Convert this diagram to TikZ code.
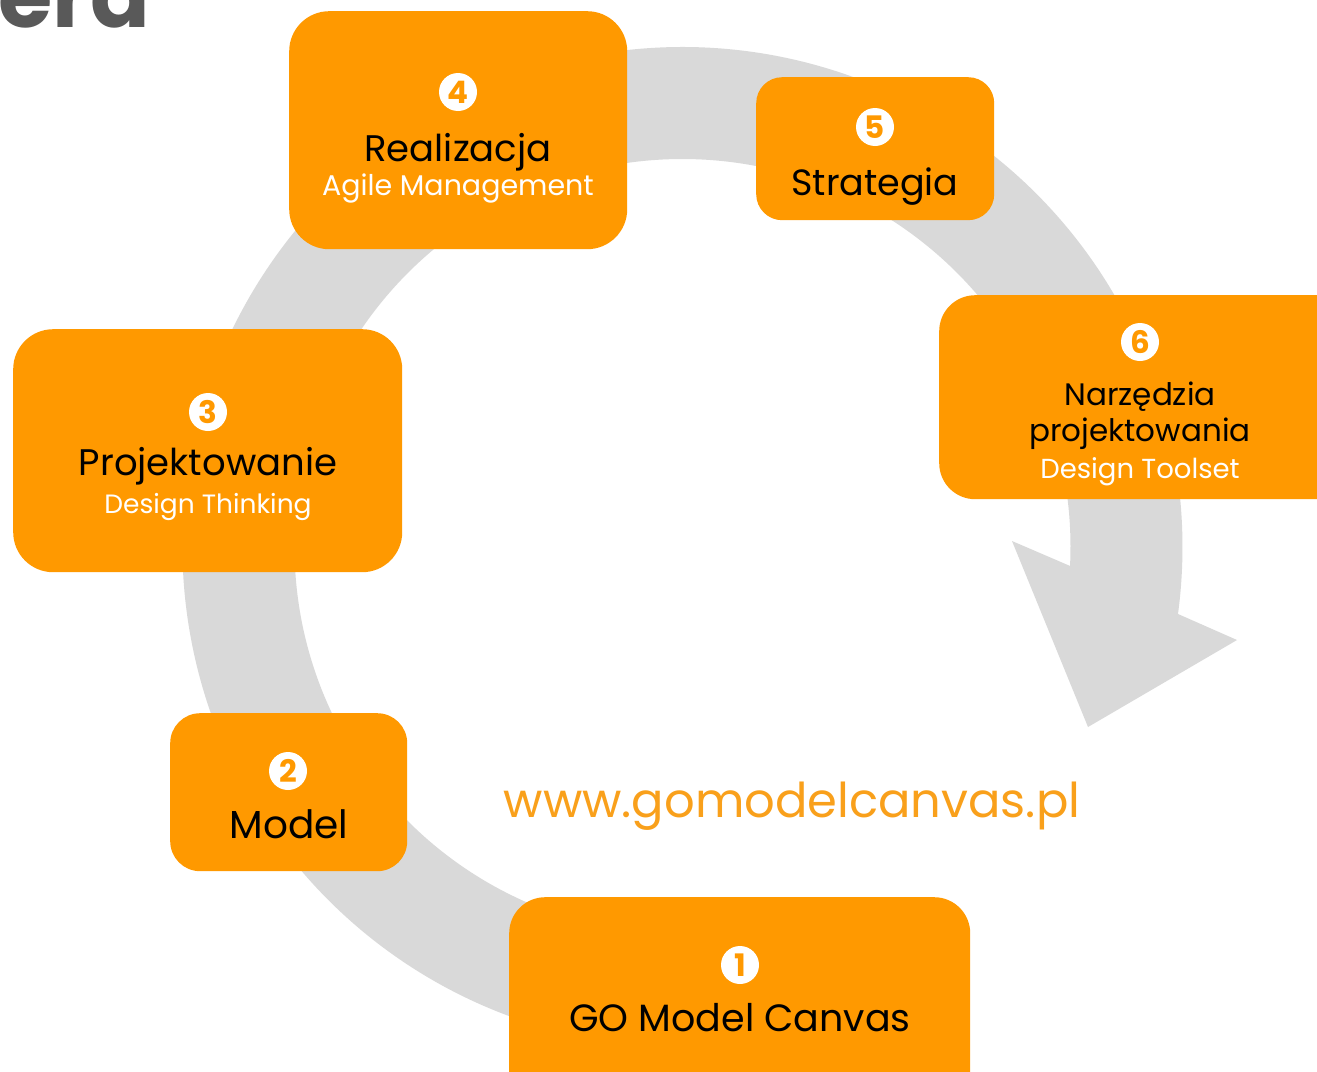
\documentclass[tikz,border=0pt]{standalone}
\usepackage{fontspec}
\setmainfont{Poppins}
\definecolor{boxorange}{HTML}{FF9900}
\definecolor{ringgray}{HTML}{D9D9D9}
\definecolor{urlorange}{HTML}{F9A01B}
\definecolor{titlegray}{HTML}{595959}
\tikzset{
  obox/.style={fill=boxorange, draw=none, inner sep=0pt, anchor=north west},
  numdot/.style={circle, fill=white, draw=none, minimum size=38pt, inner sep=0pt,
     text=boxorange, font=\fontsize{31}{31}\selectfont\bfseries},
  maintxt/.style={anchor=base, inner sep=0pt, text=black, font=\fontsize{37}{40}\selectfont},
  subtxt/.style={anchor=base, inner sep=0pt, text=white, font=\fontsize{27.5}{30}\selectfont},
}
\begin{document}
\begin{tikzpicture}[x=1pt,y=-1pt]
\clip (0,0) rectangle (1317,1071);
\fill[white] (0,0) rectangle (1317,1071);
% gray circular arrow
\fill[ringgray] ([shift={(682.5,547)}]80:500) arc[start angle=80, end angle=367.7, radius=500]
  -- (1237,640) -- (1088,727) -- (1012,541)
  -- ([shift={(682.5,547)}]362.8:388) arc[start angle=362.8, end angle=80, radius=388] -- cycle;
% cropped title
\node[anchor=base west, inner sep=0pt, text=titlegray, font=\fontsize{88}{96}\selectfont\bfseries] (title) at (-2,27) {era};
% boxes
\node[obox, rounded corners=40pt, minimum width=338pt, minimum height=238pt] (b4) at (289,11) {};
\node[obox, rounded corners=26pt, minimum width=238pt, minimum height=143pt] (b5) at (756,77) {};
\node[obox, rounded corners=36pt, minimum width=420pt, minimum height=204pt] (b6) at (939,295) {};
\node[obox, rounded corners=40pt, minimum width=389pt, minimum height=243pt] (b3) at (13,329) {};
\node[obox, rounded corners=30pt, minimum width=237pt, minimum height=158pt] (b2) at (170,713) {};
\node[obox, rounded corners=36pt, minimum width=461pt, minimum height=220pt] (b1) at (509,897) {};
% numbers
\node[numdot] (n1) at (740,965) {1};
\node[numdot] (n2) at (288,771) {2};
\node[numdot] (n3) at (208,412) {3};
\node[numdot] (n4) at (458,92) {4};
\node[numdot] (n5) at (875,127) {5};
\node[numdot] (n6) at (1140,342) {6};
% texts
\node[maintxt] (t4) at (458,161) {Realizacja};
\node[subtxt, font=\fontsize{28.5}{30}\selectfont] (s4) at (458,195) {Agile Management};
\node[maintxt, font=\fontsize{36.5}{40}\selectfont] (t5) at (875,195) {Strategia};
\node[maintxt, font=\fontsize{31}{34}\selectfont] (t6a) at (1140,405) {Narzędzia};
\node[maintxt, font=\fontsize{31}{34}\selectfont] (t6b) at (1140,441) {projektowania};
\node[subtxt] (s6) at (1140,478) {Design Toolset};
\node[maintxt] (t3) at (208,475) {Projektowanie};
\node[subtxt, font=\fontsize{26.5}{30}\selectfont] (s3) at (208,513) {Design Thinking};
\node[maintxt, font=\fontsize{39}{40}\selectfont] (t2) at (289,838) {Model};
\node[maintxt, font=\fontsize{38}{40}\selectfont] (t1) at (740,1031) {GO Model Canvas};
\node[anchor=base, inner sep=0pt, text=urlorange, font=\fontsize{48}{50}\selectfont] (url) at (792,817) {www.gomodelcanvas.pl};
\end{tikzpicture}
\end{document}
